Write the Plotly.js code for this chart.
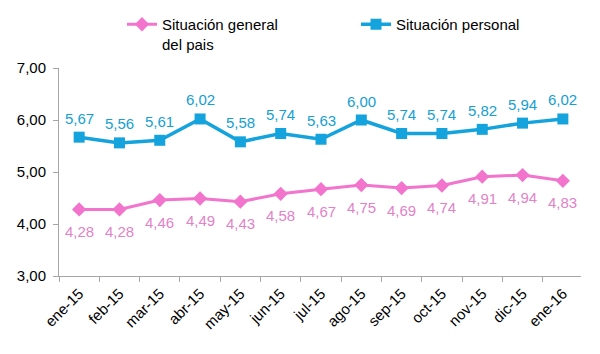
<!DOCTYPE html>
<html>
<head>
<meta charset="utf-8">
<script src="https://cdn.plot.ly/plotly-3.0.1.min.js"></script>
<style>html,body{margin:0;padding:0;background:#fff}#chart{width:600px;height:354px}</style>
</head>
<body>
<div id="chart"></div>
<script>
const months = ["ene-15","feb-15","mar-15","abr-15","may-15","jun-15","jul-15","ago-15","sep-15","oct-15","nov-15","dic-15","ene-16"];
const generalPais = [4.28,4.28,4.46,4.49,4.43,4.58,4.67,4.75,4.69,4.74,4.91,4.94,4.83];
const personal = [5.67,5.56,5.61,6.02,5.58,5.74,5.63,6.00,5.74,5.74,5.82,5.94,6.02];
const yTicks = [3,4,5,6,7];

const FONT = "Liberation Sans, Arial, sans-serif";
const pink = "#f274cc";
const blue = "#14a3dc";
const fmt = v => v.toFixed(2).replace(".", ",");

const traces = [
  {
    x: months, y: generalPais, name: "Situación general<br>del pais",
    type: "scatter", mode: "lines+markers",
    line: {color: pink, width: 3},
    marker: {symbol: "diamond", size: 11, color: pink},
    legend: "legend", cliponaxis: false
  },
  {
    x: months, y: personal, name: "Situación personal",
    type: "scatter", mode: "lines+markers",
    line: {color: blue, width: 3.5},
    marker: {symbol: "square", size: 11, color: blue},
    legend: "legend2", cliponaxis: false
  }
];

const annotations = [];
months.forEach((m, i) => {
  annotations.push({x: m, y: generalPais[i], xref: "x", yref: "y", text: fmt(generalPais[i]),
    showarrow: false, yanchor: "middle", xanchor: "center", yshift: -22,
    font: {family: FONT, size: 15, color: "#e283c8"}});
  annotations.push({x: m, y: personal[i], xref: "x", yref: "y", text: fmt(personal[i]),
    showarrow: false, yanchor: "middle", xanchor: "center", yshift: 19,
    font: {family: FONT, size: 15, color: "#14a0d2"}});
});

const legendY = 1 + (68 - 8) / 208;
const layout = {
  width: 600, height: 354,
  margin: {l: 59, r: 19, t: 68, b: 78, autoexpand: false},
  paper_bgcolor: "#fff", plot_bgcolor: "#fff",
  separators: ",.",
  font: {family: FONT, size: 15, color: "#000"},
  showlegend: true,
  annotations: annotations,
  legend: {
    x: (122 - 59) / 522, xanchor: "left", xref: "paper",
    y: legendY, yanchor: "top", yref: "paper",
    bgcolor: "rgba(0,0,0,0)", borderwidth: 0, valign: "top",
    font: {family: FONT, size: 15, color: "#000"}
  },
  legend2: {
    x: (356 - 59) / 522, xanchor: "left", xref: "paper",
    y: legendY, yanchor: "top", yref: "paper",
    bgcolor: "rgba(0,0,0,0)", borderwidth: 0, valign: "top",
    font: {family: FONT, size: 15, color: "#000"}
  },
  xaxis: {
    type: "category", range: [-0.5, 12.45],
    showgrid: false, zeroline: false,
    showline: true, linecolor: "#a6a6a6", linewidth: 1,
    ticks: "outside", ticklen: 5, tickcolor: "#a6a6a6", tickson: "boundaries",
    tickangle: -45, ticklabelstandoff: 2,
    tickfont: {family: FONT, size: 15, color: "#000"}
  },
  yaxis: {
    range: [3, 7], tickvals: yTicks, tickformat: ".2f",
    showgrid: false, zeroline: false,
    showline: true, linecolor: "#a6a6a6", linewidth: 1,
    ticks: "outside", ticklen: 5, tickcolor: "#a6a6a6", ticklabelstandoff: 4,
    tickfont: {family: FONT, size: 15, color: "#000"}
  }
};

Plotly.newPlot("chart", traces, layout, {displayModeBar: false, staticPlot: true});
</script>
</body>
</html>
